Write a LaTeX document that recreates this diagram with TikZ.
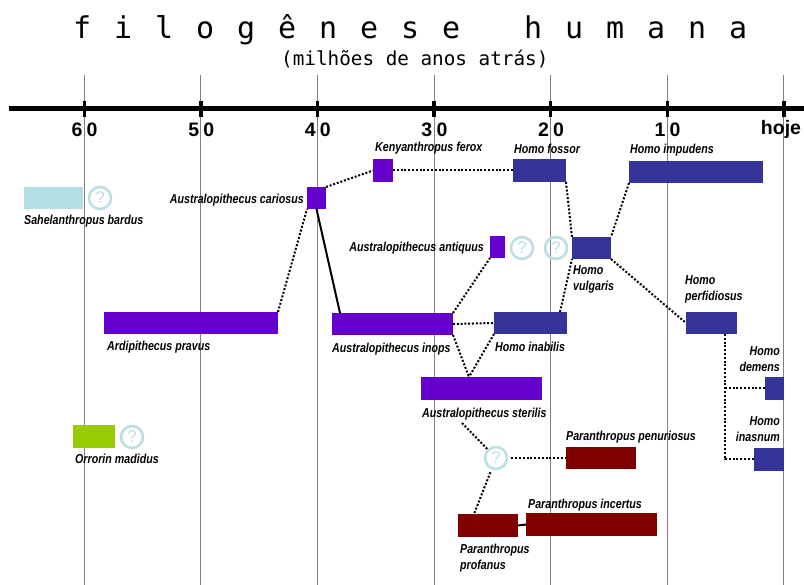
\documentclass[tikz,border=0pt]{standalone}
\usepackage{fontspec}
\newfontfamily\labfont[FakeStretch=0.82]{Liberation Sans}
\newfontfamily\tickfont{Liberation Sans}
\newfontfamily\ttlfont{DejaVu Sans Mono}
\newfontfamily\subfont{DejaVu Sans Mono}
\newcommand\tcc[1]{\makebox[41pt][l]{#1}}
\usetikzlibrary{fit}
\definecolor{purp}{HTML}{6600CC}
\definecolor{hblue}{HTML}{333399}
\definecolor{pred}{HTML}{800000}
\definecolor{ogreen}{HTML}{99CC00}
\definecolor{sblue}{HTML}{B3DEE3}
\definecolor{qblue}{HTML}{BBDFE5}
\definecolor{gridgray}{HTML}{808080}
\tikzset{
  spbox/.style={draw=none, inner sep=0pt, outer sep=0pt, fill=#1},
  qmark/.style={circle, draw=qblue, line width=2.6pt, minimum size=22pt, inner sep=0pt,
    text=qblue, font=\tickfont\fontsize{17}{17}\selectfont},
  dots/.style={line width=2pt, dash pattern=on 2pt off 1.8pt},
  solidc/.style={line width=2pt},
  lab/.style={inner sep=0pt, font=\labfont\bfseries\itshape\fontsize{13}{16}\selectfont},
  tk/.style={inner sep=0pt, font=\tickfont\bfseries\fontsize{19.5}{20}\selectfont},
  gridl/.style={draw=gridgray, line width=1pt},
}
\begin{document}
\begin{tikzpicture}[x=1pt,y=-1pt]
\useasboundingbox[fill=white] (0,0) rectangle (804,585);
% title
\node[inner sep=0pt, anchor=base west, font=\ttlfont\fontsize{30}{30}\selectfont] (title) at (73,39)
  {\tcc{f}\tcc{i}\tcc{l}\tcc{o}\tcc{g}\tcc{ê}\tcc{n}\tcc{e}\tcc{s}\tcc{e}\hspace*{41pt}\tcc{h}\tcc{u}\tcc{m}\tcc{a}\tcc{n}\tcc{a}};
\node[inner sep=0pt, anchor=base west, font=\subfont\fontsize{19.3}{20}\selectfont] (subtitle) at (281,66)
  {(milhões de anos atrás)};
% grid lines
\foreach \gx/\nm in {84.3/g60,200.9/g50,317.5/g40,434.1/g30,550.7/g20,667.3/g10,783.9/g0}{
  \coordinate (\nm top) at (\gx,75);
  \coordinate (\nm bot) at (\gx,585);
  \draw[gridl] (\nm top) -- (\nm bot);
  \coordinate (\nm t1) at (\gx,101);
  \coordinate (\nm t2) at (\gx,117);
  \draw[line width=3.5pt] (\nm t1) -- (\nm t2);
}
% axis
\coordinate (axl) at (9,109);
\coordinate (axr) at (804,109);
\draw[line width=5pt] (axl) -- (axr);
% tick labels
\foreach \gx/\d in {84.3/6,200.9/5,317.5/4,434.1/3,550.7/2,667.3/1}{
  \node[tk, anchor=base east] (d\d a) at (\gx-1.6,137) {\d};
  \node[tk, anchor=base west] (d\d b) at (\gx+2.2,137) {0};
}
\node[tk, anchor=base] (hoje) at (781,135) {hoje};
% boxes
\node[spbox=sblue, fit={(24,187) (83,209)}] (sahel) {};
\node[spbox=purp, fit={(307,187) (326,209)}] (cariosus) {};
\node[spbox=purp, fit={(373,159) (393,182)}] (kenya) {};
\node[spbox=hblue, fit={(513,159) (566,182)}] (fossor) {};
\node[spbox=hblue, fit={(629,161) (763,183)}] (impudens) {};
\node[spbox=purp, fit={(490,236) (505,258)}] (antiquus) {};
\node[spbox=hblue, fit={(572,237) (611,259)}] (vulgaris) {};
\node[spbox=purp, fit={(104,312) (278,334)}] (ardi) {};
\node[spbox=purp, fit={(332,313) (453,335)}] (inops) {};
\node[spbox=hblue, fit={(494,312) (567,334)}] (inabilis) {};
\node[spbox=hblue, fit={(686,312) (737,334)}] (perfidiosus) {};
\node[spbox=purp, fit={(421,377) (542,400)}] (sterilis) {};
\node[spbox=hblue, fit={(765,377) (784,400)}] (demens) {};
\node[spbox=ogreen, fit={(73,425) (115,448)}] (orrorin) {};
\node[spbox=pred, fit={(566,447) (636,469)}] (penuriosus) {};
\node[spbox=hblue, fit={(754,448) (784,471)}] (inasnum) {};
\node[spbox=pred, fit={(458,514) (518,537)}] (profanus) {};
\node[spbox=pred, fit={(526,513) (657,536)}] (incertus) {};
% question marks
\node[qmark] (q1) at (100,198) {?};
\node[qmark] (q2) at (522,248) {?};
\node[qmark] (q3) at (556,248) {?};
\node[qmark] (q4) at (496,458) {?};
\node[qmark] (q5) at (132,437) {?};
% labels
\node[lab, anchor=base west] (kenyaL) at (375,151.5) {Kenyanthropus ferox};
\node[lab, anchor=base west] (fossorL) at (514,153.5) {Homo fossor};
\node[lab, anchor=base west] (impudensL) at (630,153.5) {Homo impudens};
\node[lab, anchor=base west] (sahelL) at (24,225) {Sahelanthropus bardus};
\node[lab, anchor=base east] (cariosusL) at (304,203.5) {Australopithecus cariosus};
\node[lab, anchor=base east] (antiquusL) at (484,252) {Australopithecus antiquus};
\node[lab, anchor=base west, align=left] (vulgarisL) at (573,290.5) {Homo\\vulgaris};
\node[lab, anchor=base west, align=left] (perfidiosusL) at (685,301) {Homo\\perfidiosus};
\node[lab, anchor=base west] (ardiL) at (107,350.5) {Ardipithecus pravus};
\node[lab, anchor=base west] (inopsL) at (332,352.5) {Australopithecus inops};
\node[lab, anchor=base west] (inabilisL) at (495,351.5) {Homo inabilis};
\node[lab, anchor=base east, align=right] (demensL) at (780,371.5) {Homo\\demens};
\node[lab, anchor=base west] (sterilisL) at (422,417.5) {Australopithecus sterilis};
\node[lab, anchor=base east, align=right] (inasnumL) at (780,442) {Homo\\inasnum};
\node[lab, anchor=base west] (orrorinL) at (75,463.5) {Orrorin madidus};
\node[lab, anchor=base west] (penuriosusL) at (566,440.5) {Paranthropus penuriosus};
\node[lab, anchor=base west] (incertusL) at (528,508.5) {Paranthropus incertus};
\node[lab, anchor=base west, align=left] (profanusL) at (460,569.5) {Paranthropus\\profanus};
% connectors
\coordinate (vtip) at (469,377);
\coordinate (sterdot) at (462,423);
\coordinate (perfbot) at ([xshift=-12pt]perfidiosus.south east);
\draw[dots] (ardi.north east) -- (cariosus.south west);
\draw[dots] (cariosus.north east) -- (kenya.west);
\draw[dots] (kenya.east) -- (fossor.west);
\draw[dots] (fossor.south east) -- (vulgaris.north west);
\draw[dots] (impudens.south west) -- (vulgaris.north east);
\draw[dots] (vulgaris.south east) -- (perfidiosus.west);
\draw[dots] (inops.north east) -- (antiquus.south west);
\draw[dots] (inops.east) -- (inabilis.west);
\draw[dots] ([xshift=-7pt]inabilis.north east) -- (vulgaris.south west);
\draw[dots] (inops.south east) -- (vtip);
\draw[dots] (inabilis.south west) -- (vtip);
\draw[dots] (sterdot) -- (q4);
\draw[dots, shorten <=3pt] (q4) -- (penuriosus.west);
\draw[dots, shorten <=3pt] (q4) -- ([xshift=16pt]profanus.north west);
\draw[dots] (perfbot) |- (inasnum.west);
\draw[dots] (demens.west) -- (demens.west -| perfbot);
\draw[solidc] (cariosus.south) -- ([xshift=8pt]inops.north west);
\draw[solidc] (profanus.east) -- (incertus.west);
\end{tikzpicture}
\end{document}
